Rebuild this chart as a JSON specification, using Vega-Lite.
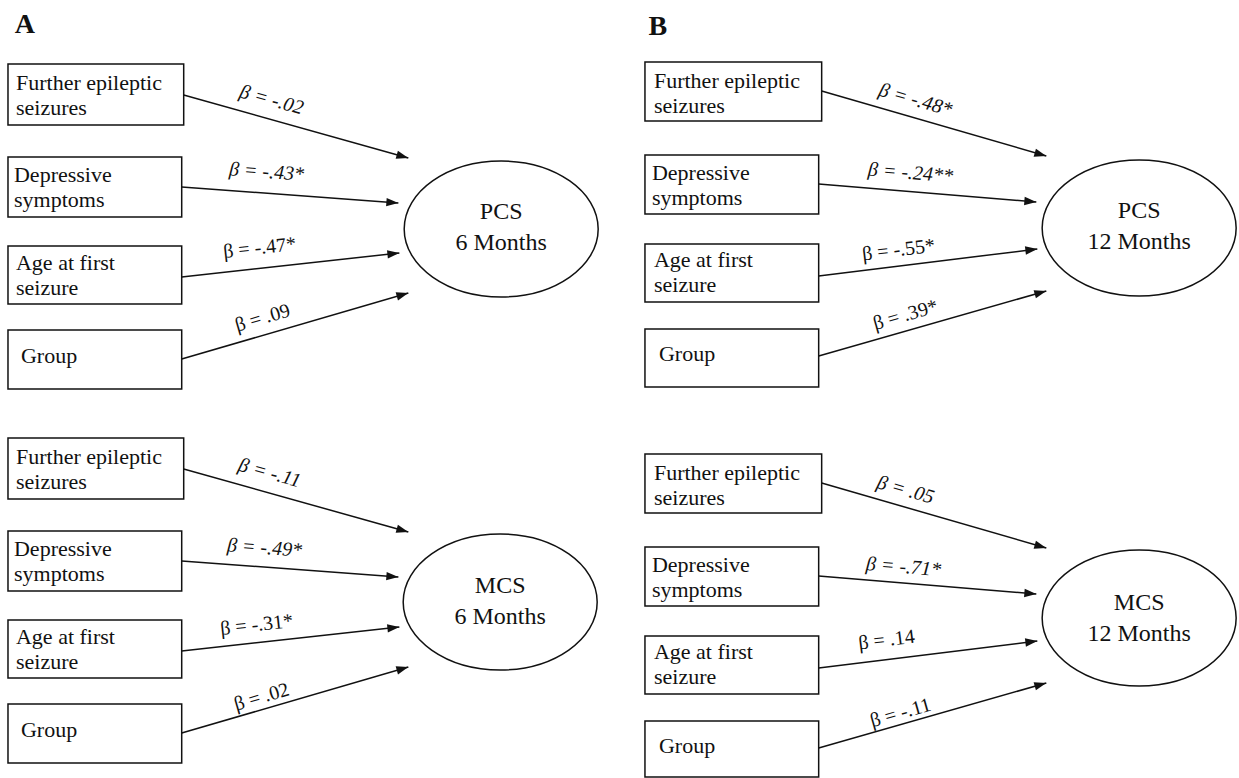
{
  "$schema": "https://vega.github.io/schema/vega-lite/v6.json",
  "autosize": {"type": "fit", "contains": "padding"},
  "width": 1239,
  "height": 778,
  "padding": 0,
  "background": "white",
  "config": {"view": {"stroke": null}},
  "datasets": {
    "boxes": [
      {"panel": "A", "outcome": "PCS", "name": "Further epileptic\nseizures", "x1": 8, "x2": 184, "y1": 64, "y2": 125, "tx": 16, "ty": 90},
      {"panel": "A", "outcome": "PCS", "name": "Depressive\nsymptoms", "x1": 8, "x2": 182, "y1": 157, "y2": 217, "tx": 14, "ty": 182},
      {"panel": "A", "outcome": "PCS", "name": "Age at first\nseizure", "x1": 8, "x2": 182, "y1": 246, "y2": 304, "tx": 16, "ty": 270},
      {"panel": "A", "outcome": "PCS", "name": "Group", "x1": 8, "x2": 182, "y1": 330, "y2": 389, "tx": 21, "ty": 363},
      {"panel": "A", "outcome": "MCS", "name": "Further epileptic\nseizures", "x1": 8, "x2": 184, "y1": 438, "y2": 499, "tx": 16, "ty": 464},
      {"panel": "A", "outcome": "MCS", "name": "Depressive\nsymptoms", "x1": 8, "x2": 182, "y1": 531, "y2": 591, "tx": 14, "ty": 556},
      {"panel": "A", "outcome": "MCS", "name": "Age at first\nseizure", "x1": 8, "x2": 182, "y1": 620, "y2": 678, "tx": 16, "ty": 644},
      {"panel": "A", "outcome": "MCS", "name": "Group", "x1": 8, "x2": 182, "y1": 704, "y2": 763, "tx": 21, "ty": 737},
      {"panel": "B", "outcome": "PCS", "name": "Further epileptic\nseizures", "x1": 646, "x2": 823, "y1": 62, "y2": 121, "tx": 655, "ty": 88},
      {"panel": "B", "outcome": "PCS", "name": "Depressive\nsymptoms", "x1": 646, "x2": 820, "y1": 155, "y2": 214, "tx": 653, "ty": 180},
      {"panel": "B", "outcome": "PCS", "name": "Age at first\nseizure", "x1": 646, "x2": 820, "y1": 244, "y2": 302, "tx": 655, "ty": 267},
      {"panel": "B", "outcome": "PCS", "name": "Group", "x1": 646, "x2": 820, "y1": 329, "y2": 387, "tx": 660, "ty": 361},
      {"panel": "B", "outcome": "MCS", "name": "Further epileptic\nseizures", "x1": 646, "x2": 823, "y1": 454, "y2": 513, "tx": 655, "ty": 480},
      {"panel": "B", "outcome": "MCS", "name": "Depressive\nsymptoms", "x1": 646, "x2": 820, "y1": 547, "y2": 606, "tx": 653, "ty": 572},
      {"panel": "B", "outcome": "MCS", "name": "Age at first\nseizure", "x1": 646, "x2": 820, "y1": 636, "y2": 694, "tx": 655, "ty": 659},
      {"panel": "B", "outcome": "MCS", "name": "Group", "x1": 646, "x2": 820, "y1": 721, "y2": 777, "tx": 660, "ty": 753}
    ],
    "paths": [
      {"panel": "A", "outcome": "PCS", "idx": 1, "label": "β = -.02", "x1": 184, "y1": 95, "x2": 409, "y2": 158, "lx": 272, "ly": 100},
      {"panel": "A", "outcome": "PCS", "idx": 2, "label": "β = -.43*", "x1": 182, "y1": 187, "x2": 399, "y2": 203, "lx": 267, "ly": 172},
      {"panel": "A", "outcome": "PCS", "idx": 3, "label": "β = -.47*", "x1": 182, "y1": 277, "x2": 400, "y2": 253, "lx": 260, "ly": 248},
      {"panel": "A", "outcome": "PCS", "idx": 4, "label": "β = .09", "x1": 182, "y1": 359, "x2": 409, "y2": 293, "lx": 263, "ly": 318},
      {"panel": "A", "outcome": "MCS", "idx": 1, "label": "β = -.11", "x1": 184, "y1": 469, "x2": 409, "y2": 532, "lx": 270, "ly": 473},
      {"panel": "A", "outcome": "MCS", "idx": 2, "label": "β = -.49*", "x1": 182, "y1": 561, "x2": 399, "y2": 577, "lx": 265, "ly": 548},
      {"panel": "A", "outcome": "MCS", "idx": 3, "label": "β = -.31*", "x1": 182, "y1": 651, "x2": 400, "y2": 627, "lx": 257, "ly": 625},
      {"panel": "A", "outcome": "MCS", "idx": 4, "label": "β = .02", "x1": 182, "y1": 733, "x2": 409, "y2": 667, "lx": 262, "ly": 697},
      {"panel": "B", "outcome": "PCS", "idx": 1, "label": "β = -.48*", "x1": 823, "y1": 91, "x2": 1048, "y2": 156, "lx": 917, "ly": 100},
      {"panel": "B", "outcome": "PCS", "idx": 2, "label": "β = -.24**", "x1": 820, "y1": 184, "x2": 1038, "y2": 202, "lx": 912, "ly": 173},
      {"panel": "B", "outcome": "PCS", "idx": 3, "label": "β = -.55*", "x1": 820, "y1": 276, "x2": 1039, "y2": 249, "lx": 900, "ly": 250},
      {"panel": "B", "outcome": "PCS", "idx": 4, "label": "β = .39*", "x1": 820, "y1": 356, "x2": 1048, "y2": 291, "lx": 907, "ly": 315},
      {"panel": "B", "outcome": "MCS", "idx": 1, "label": "β = .05", "x1": 823, "y1": 483, "x2": 1048, "y2": 548, "lx": 907, "ly": 490},
      {"panel": "B", "outcome": "MCS", "idx": 2, "label": "β = -.71*", "x1": 820, "y1": 576, "x2": 1038, "y2": 594, "lx": 905, "ly": 567},
      {"panel": "B", "outcome": "MCS", "idx": 3, "label": "β = .14", "x1": 820, "y1": 668, "x2": 1039, "y2": 641, "lx": 888, "ly": 640},
      {"panel": "B", "outcome": "MCS", "idx": 4, "label": "β = -.11", "x1": 820, "y1": 748, "x2": 1048, "y2": 683, "lx": 902, "ly": 713}
    ],
    "nodes": [
      {"panel": "A", "name": "PCS\n6 Months", "cx": 502, "cy": 229, "ty": 219},
      {"panel": "A", "name": "MCS\n6 Months", "cx": 501, "cy": 602, "ty": 593},
      {"panel": "B", "name": "PCS\n12 Months", "cx": 1141, "cy": 228, "ty": 218},
      {"panel": "B", "name": "MCS\n12 Months", "cx": 1141, "cy": 618, "ty": 610}
    ],
    "panels": [
      {"panel": "A", "px": 25, "py": 33},
      {"panel": "B", "px": 659, "py": 35}
    ]
  },
  "layer": [
    {
      "data": {"name": "paths"},
      "mark": {"type": "rule", "color": "#111111", "strokeWidth": 1.5},
      "encoding": {
        "x": {"field": "x1", "type": "quantitative", "scale": {"domain": [0, 1239], "nice": false, "zero": false}, "axis": null},
        "y": {"field": "y1", "type": "quantitative", "scale": {"domain": [0, 778], "nice": false, "zero": false, "reverse": true}, "axis": null},
        "x2": {"field": "x2"},
        "y2": {"field": "y2"}
      }
    },
    {
      "data": {"name": "paths"},
      "transform": [{"calculate": "atan2(datum.y2 - datum.y1, datum.x2 - datum.x1) * 180 / PI", "as": "ang"}],
      "mark": {"type": "point", "shape": "M 0 0 L -2 -0.7 L -2 0.7 Z", "filled": true, "color": "#111111", "opacity": 1, "size": 144},
      "encoding": {
        "x": {"field": "x2", "type": "quantitative"},
        "y": {"field": "y2", "type": "quantitative"},
        "angle": {"field": "ang", "type": "quantitative", "scale": null}
      }
    },
    {
      "data": {"name": "paths"},
      "transform": [
        {"filter": "datum.idx <= 2"},
        {"calculate": "atan2(datum.y2 - datum.y1, datum.x2 - datum.x1) * 180 / PI", "as": "ang"}
      ],
      "mark": {"type": "text", "font": "Liberation Serif", "fontSize": 20, "fontStyle": "italic", "color": "#111111", "align": "center", "baseline": "middle"},
      "encoding": {
        "x": {"field": "lx", "type": "quantitative"},
        "y": {"field": "ly", "type": "quantitative"},
        "text": {"field": "label"},
        "angle": {"field": "ang", "type": "quantitative", "scale": null}
      }
    },
    {
      "data": {"name": "paths"},
      "transform": [
        {"filter": "datum.idx > 2"},
        {"calculate": "atan2(datum.y2 - datum.y1, datum.x2 - datum.x1) * 180 / PI", "as": "ang"}
      ],
      "mark": {"type": "text", "font": "Liberation Serif", "fontSize": 20, "color": "#111111", "align": "center", "baseline": "middle"},
      "encoding": {
        "x": {"field": "lx", "type": "quantitative"},
        "y": {"field": "ly", "type": "quantitative"},
        "text": {"field": "label"},
        "angle": {"field": "ang", "type": "quantitative", "scale": null}
      }
    },
    {
      "data": {"name": "boxes"},
      "mark": {"type": "rect", "fill": "white", "stroke": "#111111", "strokeWidth": 1.5},
      "encoding": {
        "x": {"field": "x1", "type": "quantitative"},
        "x2": {"field": "x2"},
        "y": {"field": "y1", "type": "quantitative"},
        "y2": {"field": "y2"}
      }
    },
    {
      "data": {"name": "boxes"},
      "mark": {"type": "text", "font": "Liberation Serif", "fontSize": 22, "color": "#111111", "align": "left", "baseline": "alphabetic", "lineBreak": "\n", "lineHeight": 25},
      "encoding": {
        "x": {"field": "tx", "type": "quantitative"},
        "y": {"field": "ty", "type": "quantitative"},
        "text": {"field": "name"}
      }
    },
    {
      "data": {"name": "nodes"},
      "mark": {"type": "point", "shape": "M -1 0 A 1 0.701 0 1 0 1 0 A 1 0.701 0 1 0 -1 0 Z", "filled": false, "stroke": "#111111", "strokeWidth": 1.5, "opacity": 1, "size": 37636},
      "encoding": {
        "x": {"field": "cx", "type": "quantitative"},
        "y": {"field": "cy", "type": "quantitative"}
      }
    },
    {
      "data": {"name": "nodes"},
      "mark": {"type": "text", "font": "Liberation Serif", "fontSize": 24, "color": "#111111", "align": "center", "baseline": "alphabetic", "lineBreak": "\n", "lineHeight": 31},
      "encoding": {
        "x": {"field": "cx", "type": "quantitative"},
        "y": {"field": "ty", "type": "quantitative"},
        "text": {"field": "name"}
      }
    },
    {
      "data": {"name": "panels"},
      "mark": {"type": "text", "font": "Liberation Serif", "fontSize": 28, "fontWeight": "bold", "color": "#111111", "align": "center", "baseline": "alphabetic"},
      "encoding": {
        "x": {"field": "px", "type": "quantitative"},
        "y": {"field": "py", "type": "quantitative"},
        "text": {"field": "panel"}
      }
    }
  ]
}
